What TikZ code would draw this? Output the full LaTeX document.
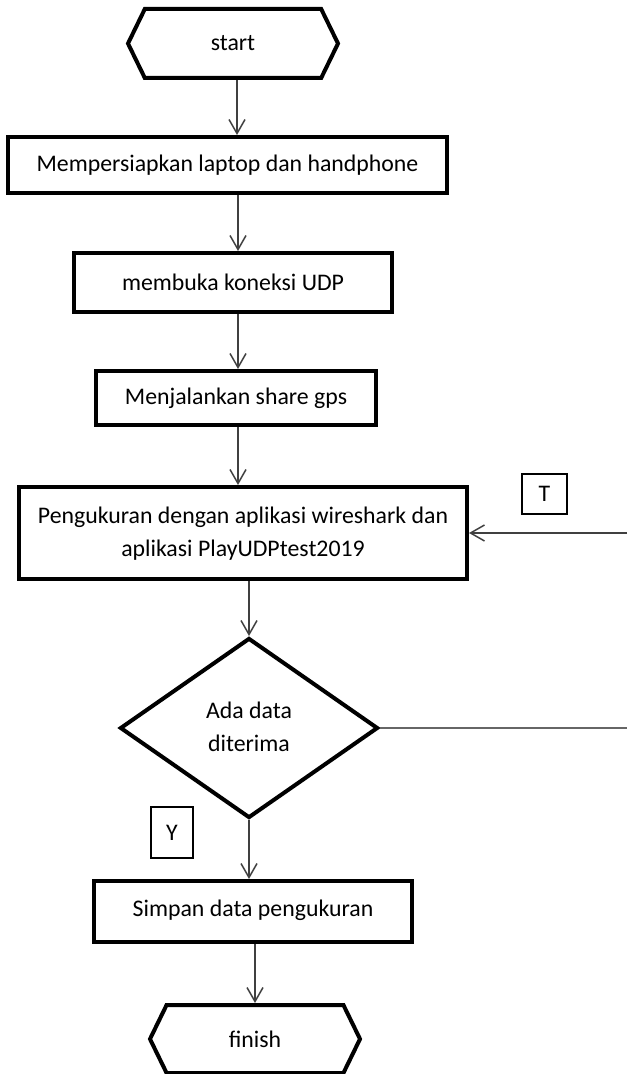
\documentclass[tikz,border=0pt]{standalone}
\usepackage{fontspec}
\setmainfont{Carlito}
\usetikzlibrary{positioning,shapes.geometric,shapes.symbols,arrows.meta}

\begin{document}
\begin{tikzpicture}[x=0.5pt, y=-0.5pt,
    every node/.style={font=\fontsize{11.9}{16.5}\selectfont},
    terminal/.style={draw, line width=2pt, signal, signal to=west and east,
        signal pointer angle=128, inner sep=0pt, minimum height=34.5pt},
    process/.style={draw, rectangle, line width=2pt, inner sep=0pt},
    decision/.style={draw, diamond, line width=2pt, inner sep=0pt,
        minimum width=129pt, minimum height=90pt},
    labelbox/.style={draw, rectangle, line width=1pt, inner sep=0pt},
    arr/.style={draw=black!75, line width=0.75pt, -{Straight Barb[length=7pt, width=8pt]}}]

        \useasboundingbox (0,0) rectangle (627,1074);

        % Start and finish nodes
        \node[terminal, minimum width=105pt] (start) at (233,43.5) {start};
        \node[terminal, minimum width=105pt, minimum height=34pt] (finish) at (255,1039) {finish};

        % Process nodes
        \node[process, minimum width=219.5pt, minimum height=28pt] (prepare) at (227.5,165) {Mempersiapkan laptop dan handphone};
        \node[process, minimum width=159pt, minimum height=29.5pt] (udp) at (233,282.5) {membuka koneksi UDP};
        \node[process, minimum width=140pt, minimum height=27pt] (gps) at (236,398) {Menjalankan share gps};
        \node[process, minimum width=224pt, minimum height=46pt] (measure) at (243,533) {
            \begin{tabular}{c}
                Pengukuran dengan aplikasi wireshark dan \\
                aplikasi PlayUDPtest2019
            \end{tabular}
        };

        % Decision node
        \node[decision] (received) at (249,728) {
            \begin{tabular}{c}
                Ada data \\
                diterima
            \end{tabular}
        };

        \node[process, minimum width=159pt, minimum height=30.5pt] (save) at (253,911.5) {\raisebox{3pt}{Simpan data pengukuran}};

        % Branch labels
        \node[labelbox, minimum width=22.5pt, minimum height=20pt] (no) at (544.5,494) {T};
        \node[labelbox, minimum width=21pt, minimum height=25.5pt] (yes) at (172,832.5) {Y};

        % Loop ends at the right edge
        \coordinate (loopout) at (627,728);
        \coordinate (loopin) at (627,533);

        % Arrows
        \draw[arr] (start.south -| 237,0) -- (prepare.north -| 237,0);
        \draw[arr] (prepare.south -| 238,0) -- (udp.north -| 238,0);
        \draw[arr] (udp.south -| 238,0) -- (gps.north -| 238,0);
        \draw[arr] (gps.south -| 238,0) -- (measure.north -| 238,0);
        \draw[arr] (measure.south -| received) -- (received.north);
        \draw[arr] (received.south) -- (received.south |- save.north);
        \draw[arr] (save.south -| finish) -- (finish.north);
        \draw[draw=black!60, line width=0.75pt] (received.east) -- (loopout);
        \draw[arr] (loopin) -- (measure.east);
    \end{tikzpicture}
\end{document}
